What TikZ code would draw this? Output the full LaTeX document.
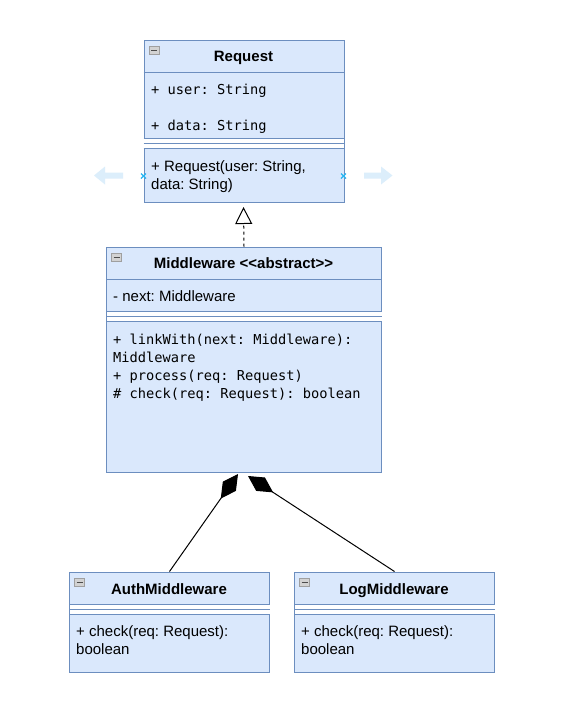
\documentclass[tikz,border=0pt]{standalone}
\usepackage{fontspec}
\setmainfont{Liberation Sans}
\newfontfamily\codefont{DejaVu Sans Mono}
\usetikzlibrary{arrows.meta}
\frenchspacing

\definecolor{umlfill}{HTML}{DAE8FC}
\definecolor{umlline}{HTML}{6C8EBF}
\definecolor{hoverblue}{HTML}{DCEEFB}
\definecolor{pinblue}{HTML}{29B6F2}

\tikzset{
  classbox/.style={draw=umlline, fill=umlfill, line width=1pt, inner sep=0pt,
    anchor=north west, rectangle},
  compline/.style={draw=umlline, line width=1pt},
  classname/.style={font=\bfseries\fontsize{15}{18}\selectfont, anchor=base, inner sep=0pt},
  member/.style={font=\fontsize{15}{18}\selectfont, anchor=base west, inner sep=0pt},
  codemember/.style={font=\codefont\fontsize{13.7}{18}\selectfont, anchor=base west, inner sep=0pt},
  foldbox/.style={draw=gray!75, fill=gray!35, line width=0.6pt},
  foldbar/.style={draw=black!70, line width=1.3pt},
  realize/.style={draw=black, line width=1pt, dash pattern=on 3pt off 3pt,
    -{Triangle[open, length=17pt, width=17pt]}},
  compose/.style={draw=black, line width=1pt, -{Diamond[length=30pt, width=16pt]}},
  hoverarrow/.style={fill=hoverblue},
  pin/.style={draw=pinblue, line width=1.2pt},
}

% horizontal compartment line of a class box, #2 pt below its top edge
\newcommand\splitat[2]{%
  \draw[compline] ([yshift=-#2pt]#1.north west) -- ([yshift=-#2pt]#1.north east);}
% white separator band between attributes and operations (from #2 to #3 below the top)
\newcommand\sepband[3]{%
  \fill[white] ([xshift=0.5pt,yshift=-#2pt]#1.north west) rectangle ([xshift=-0.5pt,yshift=-#3pt]#1.north east);
  \splitat{#1}{#2}%
  \draw[compline] ([yshift=-#2pt-5pt]#1.north west) -- ([yshift=-#2pt-5pt]#1.north east);
  \splitat{#1}{#3}}
% collapse toggle in the top left corner of a class box
\newcommand\foldicon[1]{%
  \draw[foldbox] ([xshift=5.5pt,yshift=-7pt]#1.north west) rectangle ([xshift=15.5pt,yshift=-15pt]#1.north west);
  \draw[foldbar] ([xshift=7.5pt,yshift=-11pt]#1.north west) -- ([xshift=13.5pt,yshift=-11pt]#1.north west);}

\begin{document}
\begin{tikzpicture}[x=1pt, y=-1pt]
  \fill[white] (0,0) rectangle (562,716);
  \useasboundingbox (0,0) rectangle (562,716);

  % ---- Request ----
  \node[classbox, minimum width=200pt, minimum height=162pt] (req) at (143.5,39.5) {};
  \splitat{req}{32.5}
  \sepband{req}{98.5}{108.5}
  \foldicon{req}
  \node[classname] (reqName) at (243.5,61) {Request};
  \node[codemember] (reqUser) at (151,94) {+ user: String};
  \node[codemember] (reqData) at (151,130) {+ data: String};
  \node[member] (reqCtor1) at (151,171.5) {+ Request(user: String,};
  \node[member] (reqCtor2) at (151,189.5) {data: String)};

  % editor hover handles beside Request
  \fill[hoverarrow] (123,172.5) -- (105,172.5) -- (105,166.5) -- (94,175.5)
    -- (105,184.5) -- (105,178.5) -- (123,178.5) -- cycle;
  \fill[hoverarrow] (364,172.5) -- (381,172.5) -- (381,166.5) -- (392.5,175.5)
    -- (381,184.5) -- (381,178.5) -- (364,178.5) -- cycle;
  \coordinate (pinL) at (143.5,176);
  \coordinate (pinR) at (343.5,176);
  \draw[pin] ([shift={(-2.5,-2.5)}]pinL) -- ([shift={(2.5,2.5)}]pinL)
             ([shift={(-2.5,2.5)}]pinL) -- ([shift={(2.5,-2.5)}]pinL);
  \draw[pin] ([shift={(-2.5,-2.5)}]pinR) -- ([shift={(2.5,2.5)}]pinR)
             ([shift={(-2.5,2.5)}]pinR) -- ([shift={(2.5,-2.5)}]pinR);

  % ---- Middleware ----
  \node[classbox, minimum width=275pt, minimum height=225pt] (mw) at (106,246.5) {};
  \splitat{mw}{32.5}
  \sepband{mw}{64.5}{74.5}
  \foldicon{mw}
  \node[classname] (mwName) at (243.5,268.5) {Middleware \textless{}\textless{}abstract\textgreater{}\textgreater{}};
  \node[member] (mwNext) at (113,301) {- next: Middleware};
  \node[codemember] (mwOp1) at (113,344.5) {+ linkWith(next: Middleware):};
  \node[codemember] (mwOp1b) at (113,362.5) {Middleware};
  \node[codemember] (mwOp2) at (113,380.5) {+ process(req: Request)};
  \node[codemember] (mwOp3) at (113,398.5) {\# check(req: Request): boolean};

  % ---- AuthMiddleware ----
  \node[classbox, minimum width=200pt, minimum height=100pt] (auth) at (69,571.5) {};
  \sepband{auth}{32.5}{42.5}
  \foldicon{auth}
  \node[classname] (authName) at (169,594.5) {AuthMiddleware};
  \node[member] (authOp1) at (76,636) {+ check(req: Request):};
  \node[member] (authOp1b) at (76,654) {boolean};

  % ---- LogMiddleware ----
  \node[classbox, minimum width=200pt, minimum height=100pt] (log) at (294,571.5) {};
  \sepband{log}{32.5}{42.5}
  \foldicon{log}
  \node[classname] (logName) at (394,594.5) {LogMiddleware};
  \node[member] (logOp1) at (301,636) {+ check(req: Request):};
  \node[member] (logOp1b) at (301,654) {boolean};

  % ---- relations ----
  \coordinate (genTip) at (243.5,207);
  \coordinate (tipL) at (238,474);
  \coordinate (tipR) at (248,476);
  \draw[realize] (mw.north) -- (genTip);
  \draw[compose] (auth.north) -- (tipL);
  \draw[compose] (log.north) -- (tipR);
\end{tikzpicture}
\end{document}
